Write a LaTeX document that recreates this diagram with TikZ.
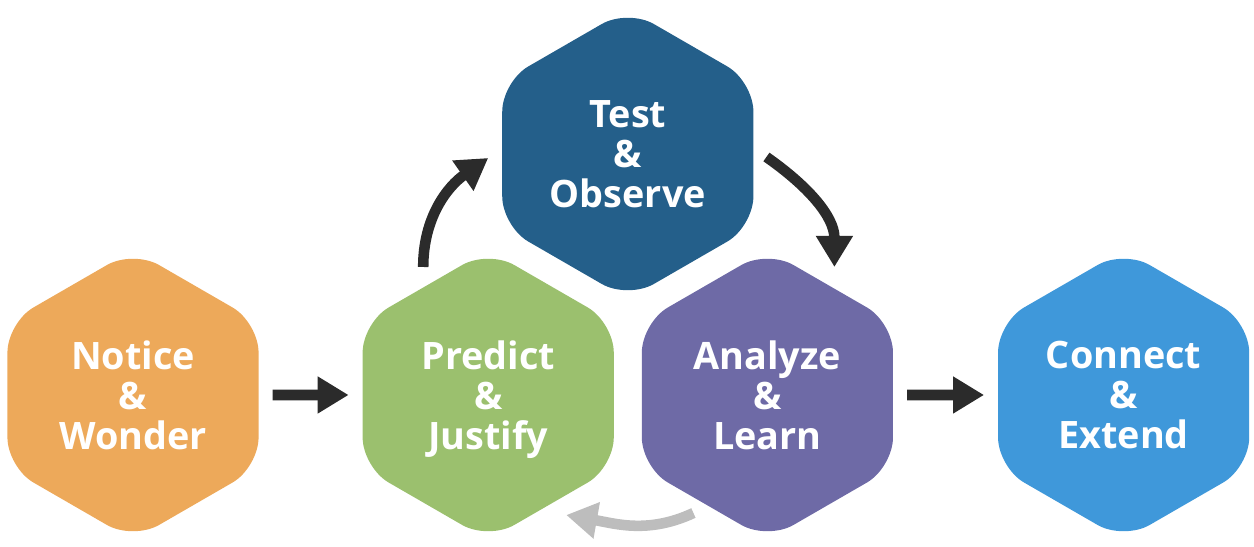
\documentclass[tikz,border=0pt]{standalone}
\usepackage{fontspec}
\newfontfamily\hexfont{Open Sans}
\usetikzlibrary{shapes.geometric, arrows.meta, positioning, calc}

\definecolor{noticeorange}{HTML}{EDA95A}
\definecolor{predictgreen}{HTML}{9BC06E}
\definecolor{testblue}{HTML}{245F8A}
\definecolor{analyzepurple}{HTML}{6E6AA6}
\definecolor{connectblue}{HTML}{3F98DA}
\definecolor{arrowdark}{HTML}{2B2B2B}
\definecolor{arrowlight}{HTML}{BDBDBD}

\begin{document}
\begin{tikzpicture}[
    node distance=0.56cm,
    hexa/.style={regular polygon, regular polygon sides=6, shape border rotate=30, minimum size=5.8cm, inner sep=0pt, outer sep=0pt, rounded corners=0.6cm, text=white, align=center, font=\hexfont\bfseries\fontsize{21.5}{22.8}\selectfont},
    line/.style={draw, line width=6pt, color=arrowdark, -{Triangle[length=0.62cm, width=0.7cm]}}
]
    \useasboundingbox (0,0) rectangle (25.08,10.94);

    \node [hexa, fill=noticeorange] (notice) at (2.66,3.04) {Notice\\\&\\Wonder};
    \node [hexa, fill=predictgreen, right=2.08cm of notice] (predict) {Predict\\\&\\\smash{Justify}};
    \node [hexa, fill=analyzepurple, right=of predict] (analyze) {Analyze\\\&\\Learn};
    \node [hexa, fill=connectblue, right=2.1cm of analyze] (connect) {Connect\\\&\\Extend};
    \node [hexa, fill=testblue] (test) at ($(predict)!0.5!(analyze)+(0,4.82)$) {Test\\\&\\Observe};

    \path [line, shorten <=0.28cm, shorten >=0.28cm] (notice) -- (predict);
    \path [line, shorten <=0.28cm, shorten >=0.28cm] (analyze) -- (connect);
    \path [line] ([shift={(-1.3,-0.34)}]predict.90) to[out=90, in=215] ([shift={(-0.28,-0.08)}]test.180);
    \path [line] ([shift={(0.26,-0.06)}]test.0) to[out=-35, in=90] ([shift={(1.34,-0.34)}]analyze.90);
    \path [line, color=arrowlight] ([shift={(-1.48,0.54)}]analyze.270) to[out=205, in=-10] ([shift={(1.56,0.5)}]predict.270);
\end{tikzpicture}
\end{document}
